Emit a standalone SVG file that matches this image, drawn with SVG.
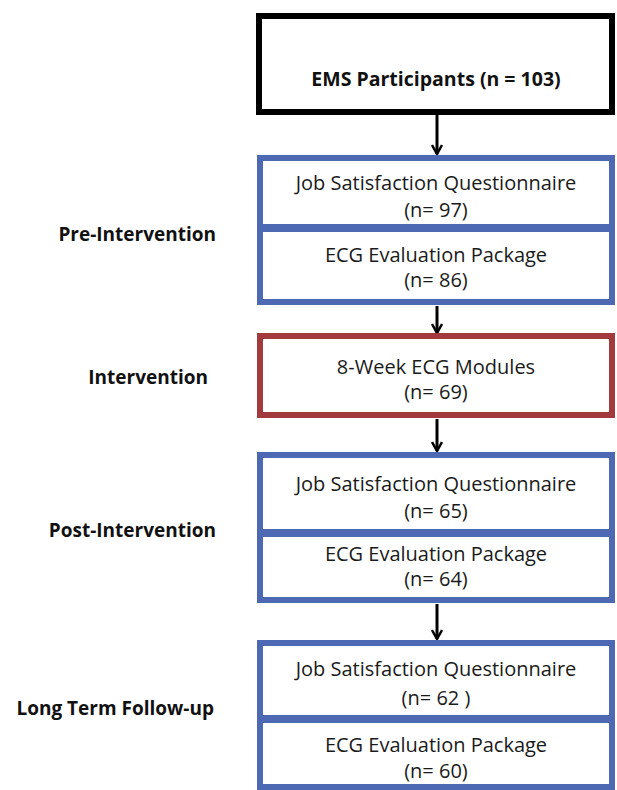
<svg xmlns="http://www.w3.org/2000/svg" width="617" height="790" viewBox="0 0 617 790">
<defs>
<style>
.t{font-family:"Open Sans","Liberation Sans",sans-serif;font-size:20px;fill:#1a1a1a;text-anchor:middle;dominant-baseline:central}
.b{font-family:"Open Sans","Liberation Sans",sans-serif;font-size:19px;font-weight:bold;fill:#111;dominant-baseline:central}
.lab{text-anchor:end}
.blue{fill:#ffffff;stroke:#4d69b4;stroke-width:6}
.red{fill:#ffffff;stroke:#a2393c;stroke-width:6}
.blk{fill:#ffffff;stroke:#000;stroke-width:6}
.con{stroke:#000;stroke-width:3;fill:none;marker-end:url(#ah)}
</style>
<marker id="ah" viewBox="0 0 12 12" refX="10" refY="6" markerWidth="12" markerHeight="12" markerUnits="userSpaceOnUse" orient="auto">
<path d="M1,1 L10,6 L1,11" fill="none" stroke="#000" stroke-width="2.5"/>
</marker>
</defs>
<rect width="617" height="790" fill="#fff"/>
<g id="labels">
<text class="b lab" x="216" y="234">Pre-Intervention</text>
<text class="b lab" x="208" y="377">Intervention</text>
<text class="b lab" x="216" y="530">Post-Intervention</text>
<text class="b lab" x="214" y="708">Long Term Follow-up</text>
</g>
<g id="connectors">
<path class="con" d="M437,113 V154"/>
<path class="con" d="M437,306 V333"/>
<path class="con" d="M437,419 V451"/>
<path class="con" d="M437,604 V639"/>
</g>
<g id="ems">
<rect class="blk" x="259" y="16" width="353" height="96"/>
<text class="b" x="436" y="78" text-anchor="middle" style="font-size:19.5px">EMS Participants (n = 103)</text>
</g>
<g id="pre">
<rect class="blue" x="260" y="158" width="352" height="69"/>
<rect class="blue" x="260" y="229" width="352" height="73"/>
<text class="t" x="436" y="182">Job Satisfaction Questionnaire</text>
<text class="t" x="436" y="209">(n= 97)</text>
<text class="t" x="436" y="254">ECG Evaluation Package</text>
<text class="t" x="436" y="279">(n= 86)</text>
</g>
<g id="intervention">
<rect class="red" x="260" y="336" width="352" height="79"/>
<text class="t" x="436" y="366">8-Week ECG Modules</text>
<text class="t" x="436" y="391">(n= 69)</text>
</g>
<g id="post">
<rect class="blue" x="260" y="455" width="352" height="77"/>
<rect class="blue" x="260" y="534" width="352" height="66"/>
<text class="t" x="436" y="483">Job Satisfaction Questionnaire</text>
<text class="t" x="436" y="510">(n= 65)</text>
<text class="t" x="436" y="553">ECG Evaluation Package</text>
<text class="t" x="436" y="578">(n= 64)</text>
</g>
<g id="followup">
<rect class="blue" x="260" y="643" width="352" height="75"/>
<rect class="blue" x="260" y="720" width="352" height="67"/>
<text class="t" x="436" y="668">Job Satisfaction Questionnaire</text>
<text class="t" x="436" y="697">(n= 62 )</text>
<text class="t" x="436" y="744">ECG Evaluation Package</text>
<text class="t" x="436" y="770">(n= 60)</text>
</g>
</svg>
